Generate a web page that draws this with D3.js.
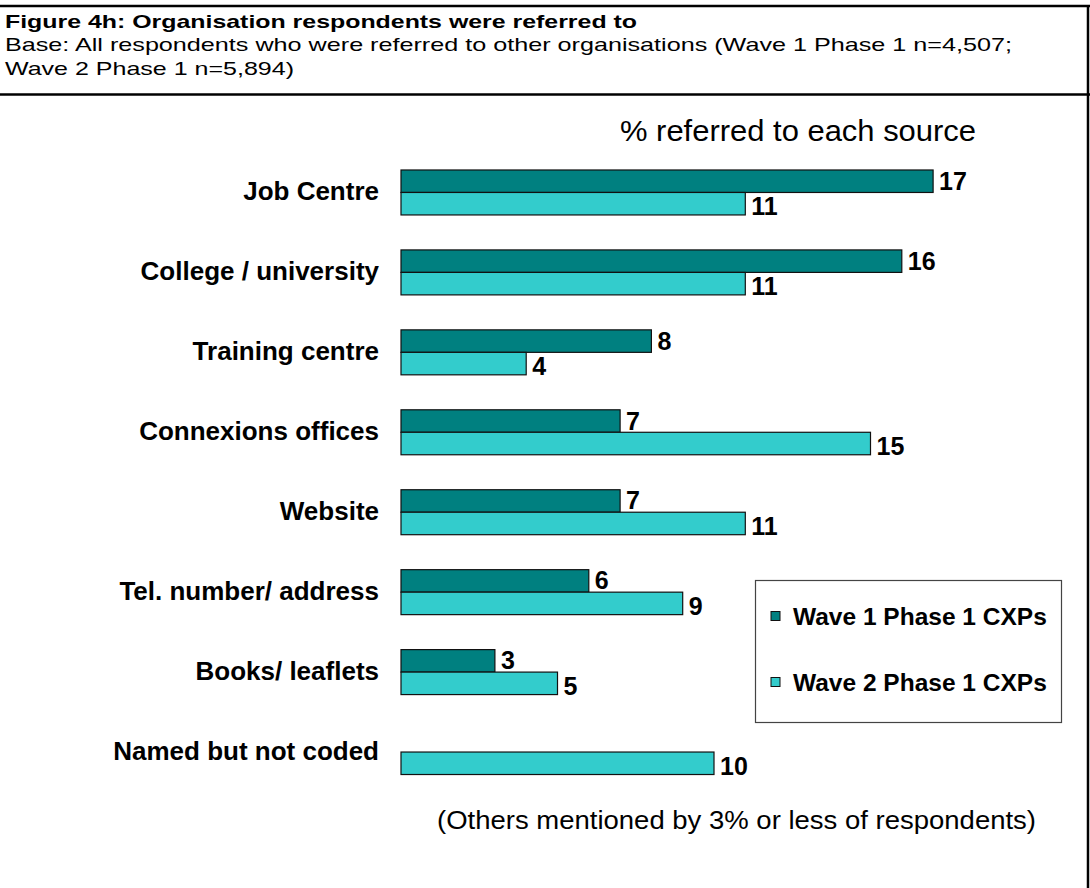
<!DOCTYPE html>
<html>
<head>
<meta charset="utf-8">
<script src="https://cdn.jsdelivr.net/npm/d3@7/dist/d3.min.js"></script>
<style>
  html, body { margin: 0; padding: 0; background: #fff; }
  svg { display: block; font-family: "Liberation Sans", Arial, sans-serif; }
</style>
</head>
<body>
<svg id="chart" width="1090" height="888"></svg>
<script>
// Referral sources, in display order (top to bottom)
const categories = [
  "Job Centre",
  "College / university",
  "Training centre",
  "Connexions offices",
  "Website",
  "Tel. number/ address",
  "Books/ leaflets",
  "Named but not coded"
];
const seriesNames = ["Wave 1 Phase 1 CXPs", "Wave 2 Phase 1 CXPs"];
// % referred to each source; null = not reported
const wave1Values = [17, 16, 8, 7, 7, 6, 3, null];
const wave2Values = [11, 11, 4, 15, 11, 9, 5, 10];
const seriesColors = ["#008080", "#33CCCC"];

const titleText = "Figure 4h: Organisation respondents were referred to";
const baseLines = [
  "Base: All respondents who were referred to other organisations (Wave 1 Phase 1 n=4,507;",
  "Wave 2 Phase 1 n=5,894)"
];
const axisTitle = "% referred to each source";
const footNote = "(Others mentioned by 3% or less of respondents)";

const svg = d3.select("#chart");
svg.append("rect").attr("width", 1090).attr("height", 888).attr("fill", "#fff");

// Frame lines of the figure header
const frame = svg.append("g").attr("stroke", "#000").attr("stroke-width", 2.5);
frame.append("line").attr("x1", 0).attr("x2", 1090).attr("y1", 6).attr("y2", 6);
frame.append("line").attr("x1", 0).attr("x2", 1090).attr("y1", 94.5).attr("y2", 94.5);
frame.append("line").attr("x1", 1088).attr("x2", 1088).attr("y1", 6).attr("y2", 888);

// Header text (wide-set type)
svg.append("text").attr("x", 5).attr("y", 28)
  .attr("font-size", 18.5).attr("font-weight", "bold").attr("fill", "#000")
  .attr("textLength", 632).attr("lengthAdjust", "spacingAndGlyphs")
  .text(titleText);
const baseWidths = [1007, 289];
svg.selectAll("text.base").data(baseLines).join("text")
  .attr("class", "base")
  .attr("x", 5).attr("y", (d, i) => 51 + i * 24)
  .attr("font-size", 18.5).attr("fill", "#000")
  .attr("textLength", (d, i) => baseWidths[i]).attr("lengthAdjust", "spacingAndGlyphs")
  .text(d => d);

// Scales
const x = d3.scaleLinear().domain([0, 20]).range([401, 401 + 20 * 31.3]);
const y = d3.scaleBand().domain(categories).range([152.5, 792])
  .paddingInner(0.4375).paddingOuter(0.21875);
const ySub = d3.scaleBand().domain([0, 1]).range([0, y.bandwidth()]);

svg.append("text").attr("x", 620).attr("y", 141)
  .attr("font-size", 29).attr("fill", "#000")
  .attr("textLength", 356).attr("lengthAdjust", "spacingAndGlyphs")
  .text(axisTitle);

// Category labels
svg.append("g").selectAll("text").data(categories).join("text")
  .attr("x", 379)
  .attr("y", d => y(d) + y.bandwidth() / 2 + 8)
  .attr("text-anchor", "end")
  .attr("font-size", 26).attr("font-weight", "bold").attr("fill", "#000")
  .text(d => d);

// Bars
const rows = [];
categories.forEach((c, i) => {
  [wave1Values[i], wave2Values[i]].forEach((v, s) => {
    if (v != null) rows.push({ cat: c, s, v });
  });
});

const barG = svg.append("g");
barG.selectAll("rect").data(rows).join("rect")
  .attr("x", x(0))
  .attr("y", d => y(d.cat) + ySub(d.s))
  .attr("width", d => x(d.v) - x(0))
  .attr("height", ySub.bandwidth())
  .attr("fill", d => seriesColors[d.s])
  .attr("stroke", "#111")
  .attr("stroke-width", 1.2);

// Value labels
barG.selectAll("text").data(rows).join("text")
  .attr("x", d => x(d.v) + 6)
  .attr("y", d => y(d.cat) + ySub(d.s) + ySub.bandwidth() / 2 + (d.s === 0 ? 8.5 : 11.5))
  .attr("font-size", 25).attr("font-weight", "bold").attr("fill", "#000")
  .text(d => d.v);

// Legend
const legend = svg.append("g");
legend.append("rect").attr("x", 755.5).attr("y", 580.5).attr("width", 306).attr("height", 142)
  .attr("fill", "#fff").attr("stroke", "#444").attr("stroke-width", 1.2);
const legItems = legend.selectAll("g.item").data(seriesNames).join("g")
  .attr("class", "item")
  .attr("transform", (d, i) => `translate(771, ${616 + i * 66})`);
legItems.append("rect").attr("x", 0).attr("y", -4.5).attr("width", 9).attr("height", 9)
  .attr("fill", (d, i) => seriesColors[i]).attr("stroke", "#111").attr("stroke-width", 1);
legItems.append("text").attr("x", 22).attr("y", 9)
  .attr("font-size", 24.5).attr("font-weight", "bold").attr("fill", "#000")
  .text(d => d);

svg.append("text").attr("x", 437).attr("y", 829)
  .attr("font-size", 25).attr("fill", "#000")
  .attr("textLength", 599).attr("lengthAdjust", "spacingAndGlyphs")
  .text(footNote);
</script>
</body>
</html>
